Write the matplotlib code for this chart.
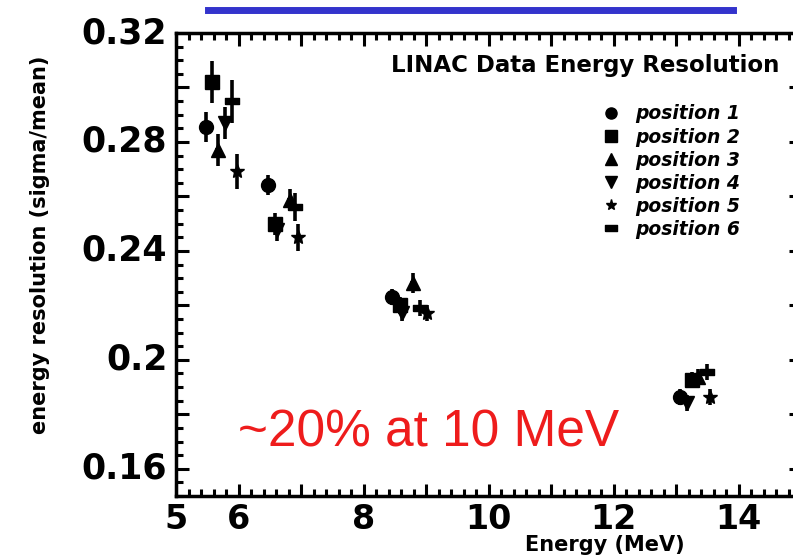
import matplotlib
matplotlib.use("Agg")
import matplotlib.pyplot as plt
from matplotlib.lines import Line2D
from matplotlib.ticker import MultipleLocator

# energies (MeV), resolution and error for the six source positions
positions = ["position 1", "position 2", "position 3", "position 4", "position 5", "position 6"]

energy_p1 = [5.48, 6.47, 8.46, 13.06]
res_p1 = [0.2855, 0.2642, 0.2230, 0.1863]
err_p1 = [0.0055, 0.0035, 0.0030, 0.0030]

energy_p2 = [5.58, 6.58, 8.58, 13.26]
res_p2 = [0.3020, 0.2500, 0.2200, 0.1926]
err_p2 = [0.0077, 0.0040, 0.0030, 0.0030]

energy_p3 = [5.67, 6.82, 8.79, 13.35]
res_p3 = [0.2770, 0.2587, 0.2282, 0.1937]
err_p3 = [0.0060, 0.0040, 0.0037, 0.0030]

energy_p4 = [5.78, 6.62, 8.62, 13.18]
res_p4 = [0.2870, 0.2477, 0.2172, 0.1841]
err_p4 = [0.0060, 0.0040, 0.0030, 0.0030]

energy_p5 = [5.98, 6.95, 9.02, 13.54]
res_p5 = [0.2693, 0.2450, 0.2172, 0.1863]
err_p5 = [0.0064, 0.0050, 0.0030, 0.0030]

energy_p6 = [5.90, 6.90, 8.90, 13.50]
res_p6 = [0.2950, 0.2561, 0.2190, 0.1955]
err_p6 = [0.0079, 0.0050, 0.0030, 0.0030]

x_ticks = [5, 6, 8, 10, 12, 14]
y_ticks = [0.16, 0.2, 0.24, 0.28, 0.32]
y_tick_labels = ["0.16", "0.2", "0.24", "0.28", "0.32"]

# wide flat box for position 6
rect_marker = [[-1, -0.5], [1, -0.5], [1, 0.5], [-1, 0.5], [-1, -0.5]]
markers = ["o", "s", "^", "v", "*", rect_marker]

series = [
    (energy_p1, res_p1, err_p1),
    (energy_p2, res_p2, err_p2),
    (energy_p3, res_p3, err_p3),
    (energy_p4, res_p4, err_p4),
    (energy_p5, res_p5, err_p5),
    (energy_p6, res_p6, err_p6),
]

fig = plt.figure(figsize=(7.93, 5.57), dpi=100)
ax = fig.add_axes([176 / 793, 61 / 557, 625 / 793, 463 / 557])

for (e, r, s), m in zip(series, markers):
    ax.errorbar(e, r, yerr=s, xerr=0.04, fmt="none", ecolor="black",
                elinewidth=2.6, capsize=0)
    ax.plot(e, r, linestyle="none", marker=m, color="black", markersize=10)

ax.set_xlim(5, 15)
ax.set_ylim(0.15, 0.32)

ax.xaxis.set_major_locator(MultipleLocator(1))
ax.xaxis.set_minor_locator(MultipleLocator(0.2))
ax.yaxis.set_major_locator(MultipleLocator(0.02))
ax.yaxis.set_minor_locator(MultipleLocator(0.005))
ax.tick_params(which="both", direction="in", top=True, right=True, width=2.2,
               labelleft=False, labelbottom=False)
ax.tick_params(which="major", length=9)
ax.tick_params(which="minor", length=5)
for sp in ax.spines.values():
    sp.set_linewidth(2.5)

# labelled ticks (only some majors carry numbers)
for xv in x_ticks:
    ax.text(xv, -0.015, str(xv), transform=ax.get_xaxis_transform(),
            ha="center", va="top", fontsize=24, fontweight="black")
for yv, lab in zip(y_ticks, y_tick_labels):
    ax.text(-0.014, yv, lab, transform=ax.get_yaxis_transform(),
            ha="right", va="center", fontsize=25, fontweight="black")

ax.text(0.966, 0.93, "LINAC Data Energy Resolution", transform=ax.transAxes,
        ha="right", va="center", fontsize=16.5, fontweight="bold")

handles = [Line2D([], [], linestyle="none", marker=m, color="black", markersize=8)
           for m in markers]
ax.legend(handles, positions, loc="upper left", bbox_to_anchor=(0.672, 0.862),
          frameon=False, handlelength=0.8, handletextpad=0.9,
          labelspacing=0.22, borderaxespad=0,
          prop={"size": 13.5, "weight": "bold", "style": "italic"})

ax.text(0.1, 0.135, "~20% at 10 MeV", transform=ax.transAxes, color="#ee1c1c",
        fontsize=37, ha="left", va="center", family="Liberation Sans")

fig.text(605 / 793, 1 - 545 / 557, "Energy (MeV)", ha="center", va="center",
         fontsize=15, fontweight="black")
fig.text(40 / 793, 1 - 245 / 557, "energy resolution (sigma/mean)",
         rotation=90, ha="center", va="center", fontsize=15, fontweight="black")

# blue underline of the slide title above the plot
fig.add_artist(Line2D([208 / 793, 733 / 793], [1 - 10 / 557, 1 - 10 / 557],
                      transform=fig.transFigure, color="#3333cc", linewidth=5))

fig.savefig("out.png", dpi=100)
